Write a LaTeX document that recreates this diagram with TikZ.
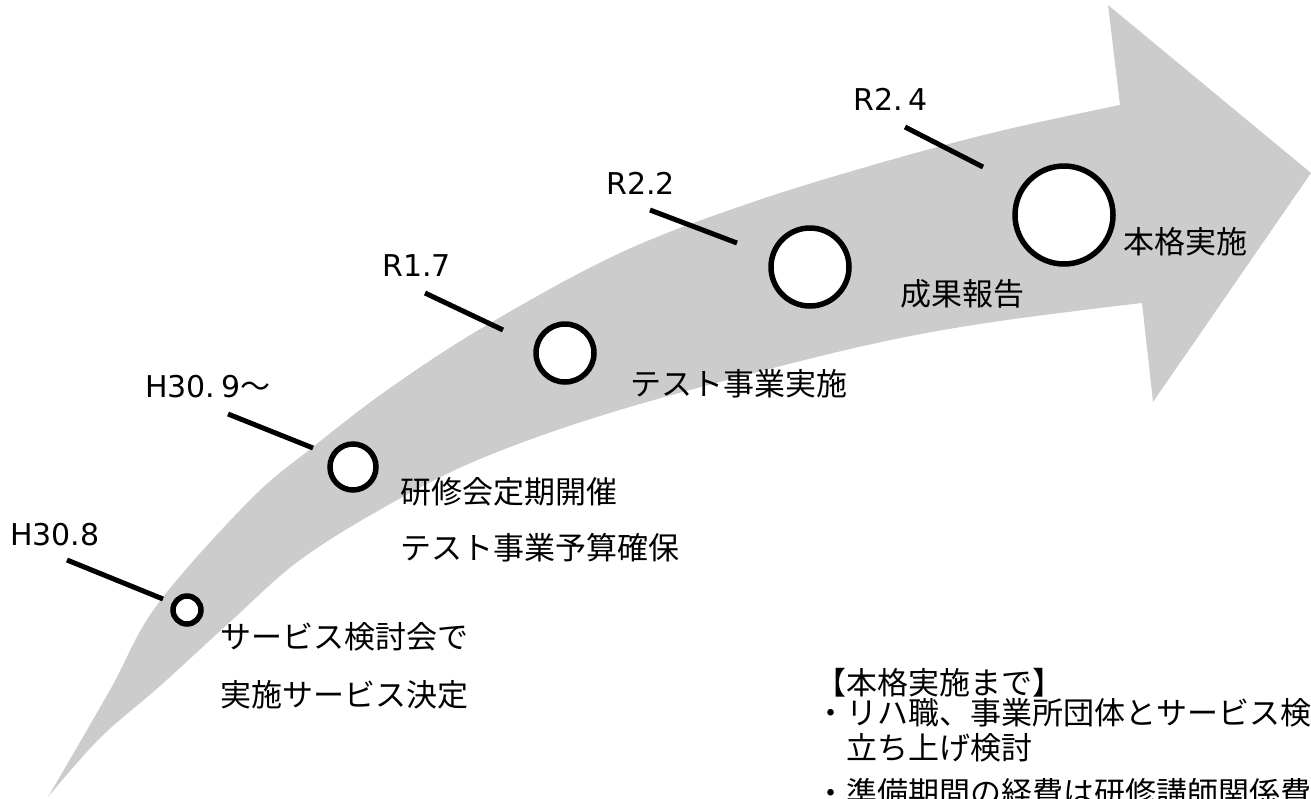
\documentclass[tikz,border=0pt]{standalone}
\usepackage{fontspec}
\setmainfont{DejaVu Sans}
\newfontfamily\cjk{Noto Sans CJK JP}
\definecolor{arrowgray}{HTML}{CCCCCC}
\begin{document}
\begin{tikzpicture}[x=1pt,y=-1pt,
  datelbl/.style={anchor=west,inner sep=0pt,font=\fontsize{30}{36}\selectfont},
  jtxt/.style={anchor=west,inner sep=0pt,font=\cjk\fontsize{31}{37}\selectfont},
  milestone/.style={circle,draw=black,line width=5.5pt,fill=white,inner sep=0pt},
  leader/.style={line width=5pt,draw=black}]
\useasboundingbox (0,0) rectangle (1311,798);
\clip (0,0) rectangle (1311,798);
% curved arrow
\fill[arrowgray] plot[smooth,tension=0.6] coordinates {(48,797) (110,690) (157,605) (250,500) (313,447) (390,388) (487,325) (620,253) (750,203) (880,163) (1000,131) (1120,105)}
  -- (1108,5) -- (1311,173) -- (1153,402) -- (1142,303)
  -- plot[smooth,tension=0.6] coordinates {(1142,303) (1000,321) (886,341) (750,374) (600,416) (480,459) (390,504) (300,560) (230,622) (160,686) (100,738) (48,797)} -- cycle;
% milestones
\node[milestone,minimum size=28pt] (c1) at (187,610) {};
\node[milestone,minimum size=46pt] (c2) at (353,467) {};
\node[milestone,minimum size=58pt] (c3) at (565,353) {};
\node[milestone,minimum size=78pt] (c4) at (810,267) {};
\node[milestone,minimum size=98pt] (c5) at (1064,215) {};
% date labels
\node[datelbl] (d1) at (10,535) {H30.8};
\node[datelbl] (d2) at (145,387) {H30.\hspace{0.2em}9{\cjk ～}};
\node[datelbl] (d3) at (382,266) {R1.7};
\node[datelbl] (d4) at (606,183) {R2.2};
\node[datelbl] (d5) at (853,99) {R2.\hspace{0.2em}4};
% leader lines
\coordinate (a1) at (67,560);  \coordinate (b1) at (163,599);
\coordinate (a2) at (228,414); \coordinate (b2) at (313,448);
\coordinate (a3) at (425,293); \coordinate (b3) at (503,330);
\coordinate (a4) at (650,210); \coordinate (b4) at (737,243);
\coordinate (a5) at (905,127); \coordinate (b5) at (983,167);
\draw[leader] (a1) -- (b1);
\draw[leader] (a2) -- (b2);
\draw[leader] (a3) -- (b3);
\draw[leader] (a4) -- (b4);
\draw[leader] (a5) -- (b5);
% milestone texts
\node[jtxt] (t1a) at (220,637) {サービス検討会で};
\node[jtxt] (t1b) at (220,695) {実施サービス決定};
\node[jtxt] (t2a) at (400,492) {研修会定期開催};
\node[jtxt] (t2b) at (400,548) {テスト事業予算確保};
\node[jtxt] (t3) at (630,384) {テスト事業実施};
\node[jtxt] (t4) at (900,294) {成果報告};
\node[jtxt] (t5) at (1123,242) {本格実施};
% note
\node[jtxt] (n1) at (815,683) {【本格実施まで】};
\node[jtxt] (n2) at (815,713) {・リハ職、事業所団体とサービス検};
\node[jtxt] (n3) at (846,748) {立ち上げ検討};
\node[jtxt] (n4) at (815,793) {・準備期間の経費は研修講師関係費};
\end{tikzpicture}
\end{document}
